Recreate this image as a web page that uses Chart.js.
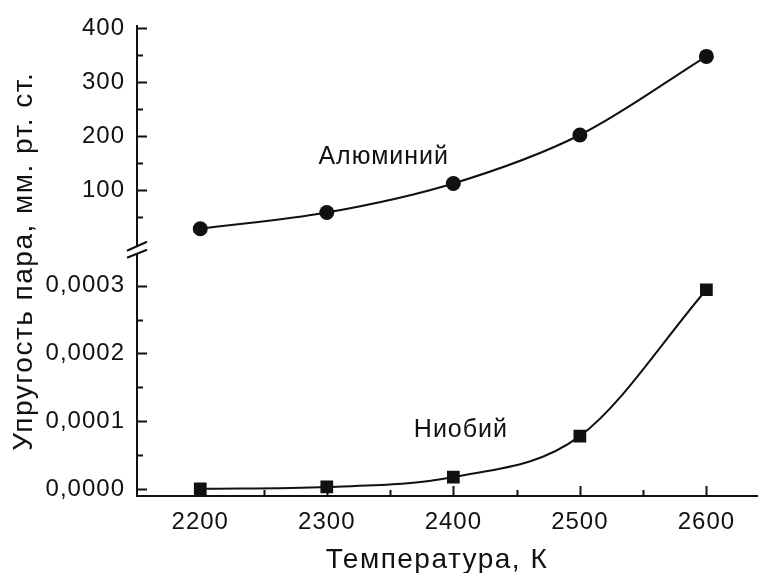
<!DOCTYPE html>
<html>
<head>
<meta charset="utf-8">
<script src="https://cdn.jsdelivr.net/npm/chart.js@4/dist/chart.umd.min.js"></script>
<style>
  html, body { margin: 0; padding: 0; background: #ffffff; }
  #wrap { width: 760px; height: 573px; }
</style>
</head>
<body>
<div id="wrap"><canvas id="chart"></canvas></div>
<script>
// Vapour pressure of aluminium (mm Hg) and niobium (mm Hg) vs temperature
const temperatures = [2200, 2300, 2400, 2500, 2600];
const aluminium = [28, 58, 112, 202, 348];
const niobium = [0.0000003, 0.000003, 0.0000176, 0.000078, 0.000294];

const seriesNames = ['Алюминий', 'Ниобий'];
const xTitle = 'Температура, К';
const yTitle = 'Упругость пара, мм. рт. ст.';

const FONT = '"Liberation Sans", Arial, sans-serif';
const INK = '#111111';

// 0,0003 style labels for the lower (niobium) axis
function formatLow(v) {
  const n = Math.round(v / 0.00005);
  if (n < 0 || n % 2 !== 0 || n > 6) return '';
  return (n * 0.00005).toFixed(4).replace('.', ',');
}

// slightly wider lettering for every text drawn on the canvas
const spacing = {
  id: 'spacing',
  beforeDraw(chart) {
    chart.ctx.letterSpacing = '1px';
  }
};

// inward tick marks, long for labelled values, short for the halves
const innerTicks = {
  id: 'innerTicks',
  afterDraw(chart) {
    const ctx = chart.ctx;
    const { x, yTop, yLow } = chart.scales;
    ctx.save();
    ctx.strokeStyle = INK;
    ctx.lineWidth = 2;
    ctx.beginPath();
    x.ticks.forEach(t => {
      if (t.value <= x.min) return;
      const major = Math.round(t.value) % 100 === 0;
      const px = Math.round(x.getPixelForValue(t.value)) + 0.5;
      const len = major ? 10 : 6;
      ctx.moveTo(px, x.top);
      ctx.lineTo(px, x.top - len);
    });
    yTop.ticks.forEach(t => {
      if (t.value <= 0) return;
      const major = Math.round(t.value) % 100 === 0;
      const py = Math.round(yTop.getPixelForValue(t.value)) + 0.5;
      ctx.moveTo(yTop.right, py);
      ctx.lineTo(yTop.right + (major ? 10 : 6), py);
    });
    yLow.ticks.forEach(t => {
      if (t.value < -1e-9 || t.value > 0.00031) return;
      const n = Math.round(t.value / 0.00005);
      const major = n % 2 === 0;
      const py = Math.round(yLow.getPixelForValue(t.value)) + 0.5;
      ctx.moveTo(yLow.right, py);
      ctx.lineTo(yLow.right + (major ? 10 : 6), py);
    });
    ctx.stroke();
    ctx.restore();
  }
};

// the "//" break mark where the two value axes meet
const axisBreak = {
  id: 'axisBreak',
  afterDraw(chart) {
    const ctx = chart.ctx;
    const yTop = chart.scales.yTop;
    const ax = yTop.right;
    const yb = yTop.bottom + 2;
    ctx.save();
    ctx.fillStyle = '#ffffff';
    ctx.beginPath();
    ctx.moveTo(ax - 10, yb + 1);
    ctx.lineTo(ax + 10, yb - 8);
    ctx.lineTo(ax + 10, yb);
    ctx.lineTo(ax - 10, yb + 8);
    ctx.closePath();
    ctx.fill();
    ctx.strokeStyle = INK;
    ctx.lineWidth = 2;
    ctx.beginPath();
    ctx.moveTo(ax - 10, yb + 1);
    ctx.lineTo(ax + 10, yb - 8);
    ctx.moveTo(ax - 10, yb + 8);
    ctx.lineTo(ax + 10, yb);
    ctx.stroke();
    ctx.restore();
  }
};

// axis titles and the in-plot series names
const captions = {
  id: 'captions',
  afterDraw(chart) {
    const ctx = chart.ctx;
    const { x, yTop, yLow } = chart.scales;
    const area = chart.chartArea;
    ctx.save();
    ctx.fillStyle = INK;
    ctx.letterSpacing = '1.5px';

    ctx.font = '28px ' + FONT;
    ctx.textAlign = 'center';
    ctx.textBaseline = 'alphabetic';
    ctx.fillText(xTitle, (area.left + area.right) / 2 - 10, 568);

    ctx.save();
    ctx.translate(32, (area.top + area.bottom) / 2);
    ctx.rotate(-Math.PI / 2);
    ctx.fillText(yTitle, 0, 0);
    ctx.restore();

    ctx.letterSpacing = '1px';
    ctx.font = '25px ' + FONT;
    ctx.fillText(seriesNames[0], x.getPixelForValue(2345), yTop.getPixelForValue(148));
    ctx.fillText(seriesNames[1], x.getPixelForValue(2406), yLow.getPixelForValue(0.0000765));
    ctx.restore();
  }
};

const tickFont = { family: FONT, size: 24 };

new Chart(document.getElementById('chart'), {
  type: 'line',
  data: {
    datasets: [
      {
        label: seriesNames[0],
        data: temperatures.map((t, i) => ({ x: t, y: aluminium[i] })),
        yAxisID: 'yTop',
        borderColor: INK,
        borderWidth: 2,
        backgroundColor: INK,
        pointStyle: 'circle',
        pointRadius: 7.5,
        pointBorderWidth: 0,
        cubicInterpolationMode: 'monotone',
        fill: false
      },
      {
        label: seriesNames[1],
        data: temperatures.map((t, i) => ({ x: t, y: niobium[i] })),
        yAxisID: 'yLow',
        borderColor: INK,
        borderWidth: 2,
        backgroundColor: INK,
        pointStyle: 'rect',
        pointRadius: 9,
        pointBorderWidth: 0,
        cubicInterpolationMode: 'monotone',
        fill: false
      }
    ]
  },
  options: {
    responsive: true,
    maintainAspectRatio: false,
    animation: false,
    layout: { autoPadding: false, padding: { top: 25, right: 3, left: 0, bottom: 0 } },
    plugins: {
      legend: { display: false },
      tooltip: { enabled: false }
    },
    scales: {
      x: {
        type: 'linear',
        min: 2150,
        max: 2640,
        afterFit: s => { s.height = 77; s.paddingLeft = 0; s.paddingRight = 0; },
        grid: { display: false, drawTicks: false },
        border: { display: true, color: INK, width: 2 },
        ticks: {
          stepSize: 50,
          includeBounds: false,
          autoSkip: false,
          maxRotation: 0,
          padding: 12,
          color: INK,
          font: tickFont,
          callback: v => (Math.round(v) % 100 === 0 ? String(v) : '')
        }
      },
      yLow: {
        type: 'linear',
        position: 'left',
        stack: 'pressure',
        stackWeight: 249,
        min: -0.0000103,
        max: 0.000356,
        afterFit: s => { s.width = 137; },
        grid: { display: false, drawTicks: false },
        border: { display: true, color: INK, width: 2 },
        ticks: {
          stepSize: 0.00005,
          includeBounds: false,
          autoSkip: false,
          padding: 12,
          color: INK,
          font: tickFont,
          callback: v => formatLow(v)
        }
      },
      yTop: {
        type: 'linear',
        position: 'left',
        stack: 'pressure',
        stackWeight: 222,
        min: -7.4,
        max: 403.7,
        afterFit: s => { s.width = 137; },
        grid: { display: false, drawTicks: false },
        border: { display: true, color: INK, width: 2 },
        ticks: {
          stepSize: 50,
          includeBounds: false,
          autoSkip: false,
          padding: 12,
          color: INK,
          font: tickFont,
          callback: v => (v > 0 && Math.round(v) % 100 === 0 ? String(v) : '')
        }
      }
    }
  },
  plugins: [spacing, innerTicks, axisBreak, captions]
});
</script>
</body>
</html>
